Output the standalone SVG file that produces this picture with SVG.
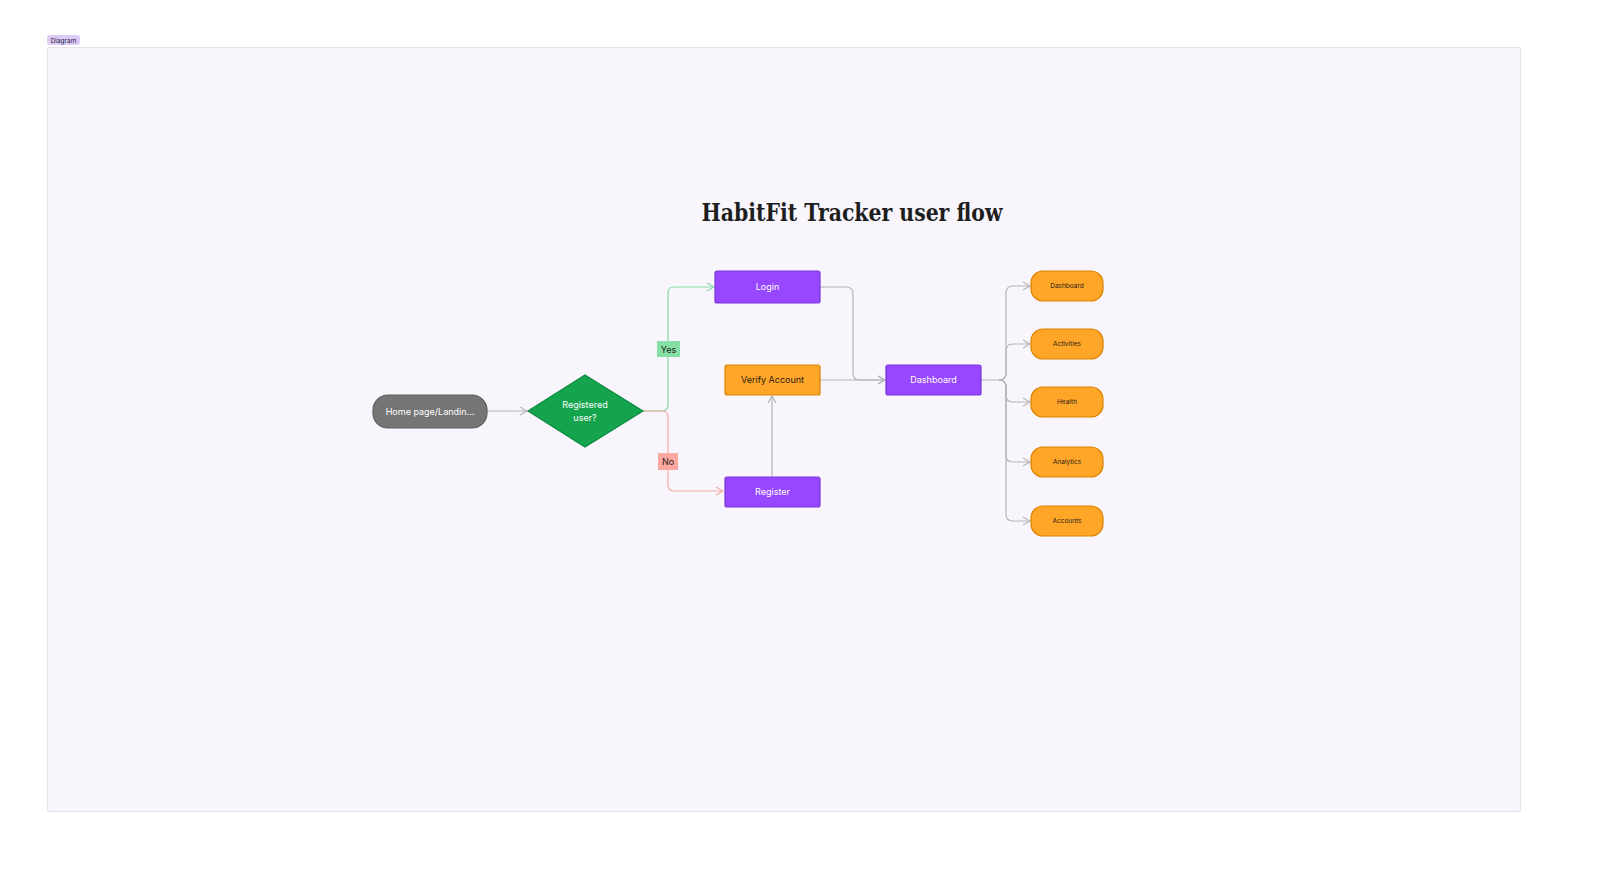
<svg xmlns="http://www.w3.org/2000/svg" width="1600" height="878" viewBox="0 0 1600 878">
<defs>
<marker id="ag" viewBox="0 0 10 10" refX="9" refY="5" markerWidth="10" markerHeight="10" markerUnits="userSpaceOnUse" orient="auto"><path d="M2,1 L9,5 L2,9" fill="none" stroke="#b4b4b8" stroke-width="1.2"/></marker>
<marker id="agr" viewBox="0 0 10 10" refX="9" refY="5" markerWidth="10" markerHeight="10" markerUnits="userSpaceOnUse" orient="auto"><path d="M2,1 L9,5 L2,9" fill="none" stroke="#86d9a6" stroke-width="1.2"/></marker>
<marker id="apk" viewBox="0 0 10 10" refX="9" refY="5" markerWidth="10" markerHeight="10" markerUnits="userSpaceOnUse" orient="auto"><path d="M2,1 L9,5 L2,9" fill="none" stroke="#f6aaa4" stroke-width="1.2"/></marker>
</defs>
<style>
text{font-family:Inter,"Liberation Sans",sans-serif;}
text.title{font-family:"DejaVu Serif","Liberation Serif",serif;font-weight:bold;}
.purple{fill:#9747ff;stroke:#7b36d9;stroke-width:1.2;}
.orange{fill:#ffa629;stroke:#d98200;stroke-width:1.2;}
.wt{fill:#ffffff;font-size:9px;text-anchor:middle;}
.dk{fill:#2a2013;font-size:9px;text-anchor:middle;}
.sm{fill:#2a2013;font-size:6.5px;text-anchor:middle;}
.conn{fill:none;stroke:#b4b4b8;stroke-width:1.2;}
</style>
<rect width="1600" height="878" fill="#ffffff"/>
<g id="frame">
<rect x="47.5" y="47.5" width="1473" height="764" rx="2" fill="#f8f6fc" stroke="#e4e1ec" stroke-width="1"/>
<rect x="47" y="35" width="33" height="10" rx="3" fill="#dccaf7"/>
<text x="63.5" y="42.5" font-size="6.5" text-anchor="middle" fill="#2b1f40">Diagram</text>
</g>
<text id="title" class="title" x="852" y="221" font-size="25" text-anchor="middle" fill="#1e1e1e" textLength="301" lengthAdjust="spacingAndGlyphs">HabitFit Tracker user flow</text>
<g id="connectors">
<path class="conn" d="M487,411 H527" marker-end="url(#ag)"/>
<path d="M643,411 H662 Q668,411 668,405 V293 Q668,287 674,287 H714" fill="none" stroke="#86d9a6" stroke-width="1.2" marker-end="url(#agr)"/>
<path d="M643,411 H662 Q668,411 668,417 V485 Q668,491 674,491 H723" fill="none" stroke="#f6aaa4" stroke-width="1.2" marker-end="url(#apk)"/>
<path class="conn" d="M772,477 V396" marker-end="url(#ag)"/>
<path class="conn" d="M820,380 H885" marker-end="url(#ag)"/>
<path class="conn" d="M820,287 H846 Q853,287 853,294 V373 Q853,380 860,380 H885" marker-end="url(#ag)"/>
<path class="conn" d="M981,380 H999 Q1006,380 1006,373 V293 Q1006,286 1013,286 H1030" marker-end="url(#ag)"/>
<path class="conn" d="M999,380 Q1006,380 1006,373 V351 Q1006,344 1013,344 H1030" marker-end="url(#ag)"/>
<path class="conn" d="M999,380 Q1006,380 1006,387 V395 Q1006,402 1013,402 H1030" marker-end="url(#ag)"/>
<path class="conn" d="M999,380 Q1006,380 1006,387 V455 Q1006,462 1013,462 H1030" marker-end="url(#ag)"/>
<path class="conn" d="M999,380 Q1006,380 1006,387 V514 Q1006,521 1013,521 H1030" marker-end="url(#ag)"/>
<rect x="657" y="341" width="23" height="16" fill="#86e0a6"/>
<text x="668.5" y="352.5" font-size="9" text-anchor="middle" fill="#1e2a22">Yes</text>
<rect x="658" y="453" width="20" height="17" fill="#fca8a0"/>
<text x="668" y="465" font-size="9" text-anchor="middle" fill="#2a1e1e">No</text>
</g>
<g id="home">
<rect x="373" y="395" width="114" height="33" rx="15" fill="#757575" stroke="#5c5c5c" stroke-width="1.2"/>
<text class="wt" x="430" y="414.5">Home page/Landin...</text>
</g>
<g id="registered">
<polygon points="585,375 643,411 585,447 528,411" fill="#14a44d" stroke="#0f8a3f" stroke-width="1.2"/>
<text class="wt" x="585" y="407.5">Registered</text>
<text class="wt" x="585" y="420.5">user?</text>
</g>
<g id="login">
<rect class="purple" x="715" y="271" width="105" height="32" rx="2"/>
<text class="wt" x="767.5" y="290">Login</text>
</g>
<g id="verify">
<rect class="orange" x="725" y="365" width="95" height="30" rx="2"/>
<text class="dk" x="772.5" y="383">Verify Account</text>
</g>
<g id="register">
<rect class="purple" x="725" y="477" width="95" height="30" rx="2"/>
<text class="wt" x="772.5" y="495">Register</text>
</g>
<g id="dashboard">
<rect class="purple" x="886" y="365" width="95" height="30" rx="2"/>
<text class="wt" x="933.5" y="383">Dashboard</text>
</g>
<g id="s-dashboard">
<rect class="orange" x="1031" y="271" width="72" height="30" rx="12"/>
<text class="sm" x="1067" y="288.3">Dashboard</text>
</g>
<g id="s-activities">
<rect class="orange" x="1031" y="329" width="72" height="30" rx="12"/>
<text class="sm" x="1067" y="346.3">Activities</text>
</g>
<g id="s-health">
<rect class="orange" x="1031" y="387" width="72" height="30" rx="12"/>
<text class="sm" x="1067" y="404.3">Health</text>
</g>
<g id="s-analytics">
<rect class="orange" x="1031" y="447" width="72" height="30" rx="12"/>
<text class="sm" x="1067" y="464.3">Analytics</text>
</g>
<g id="s-accounts">
<rect class="orange" x="1031" y="506" width="72" height="30" rx="12"/>
<text class="sm" x="1067" y="523.3">Accounts</text>
</g>
</svg>
